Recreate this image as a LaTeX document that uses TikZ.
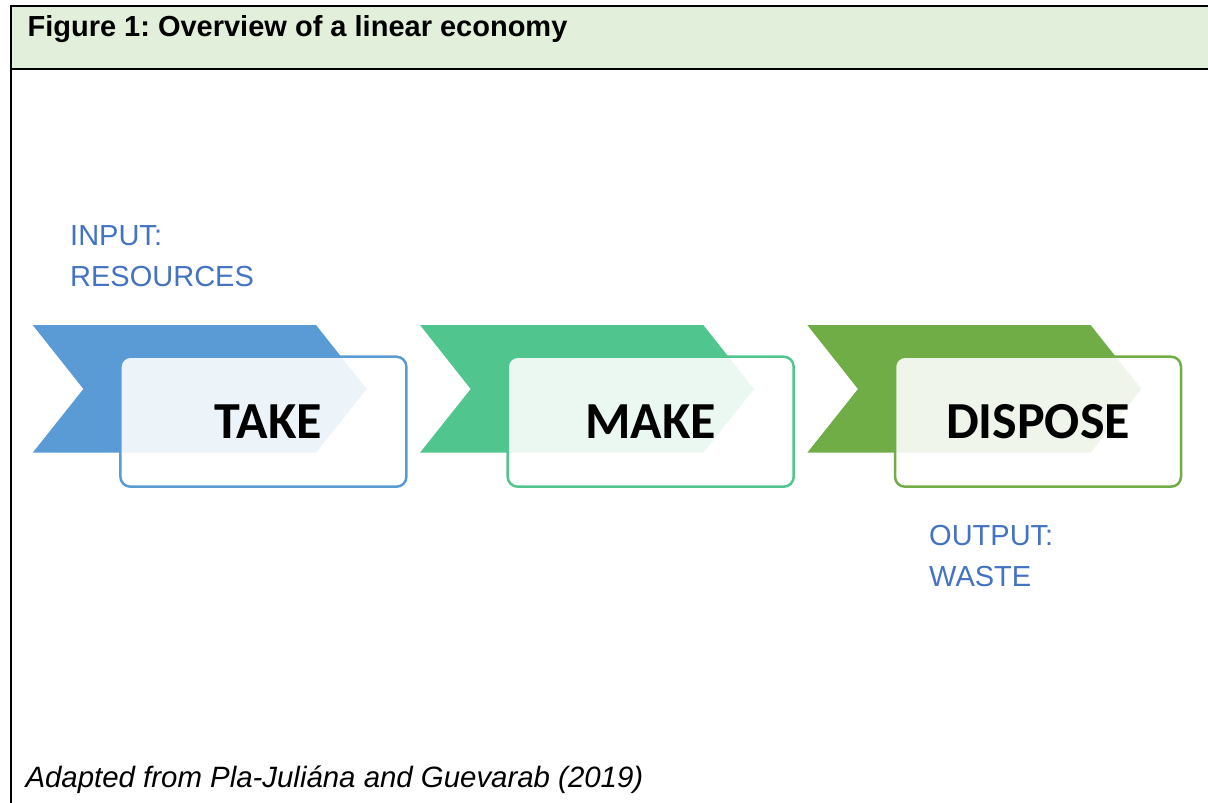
\documentclass[tikz,border=0pt]{standalone}
\usepackage{fontspec}
\setmainfont{Liberation Sans}
\newfontfamily\stagefont{Carlito}
\usetikzlibrary{positioning}

\definecolor{takeblue}{HTML}{5B9BD5}
\definecolor{makegreen}{HTML}{50C58E}
\definecolor{disposegreen}{HTML}{70AD47}
\definecolor{headgreen}{HTML}{E2EFDA}
\definecolor{labelblue}{HTML}{4472C4}

\tikzset{
	frameline/.style={line width=2pt, black},
	stagebox/.style={draw=#1, line width=2.5pt, rounded corners=10pt,
		fill=white, fill opacity=0.89, text opacity=1,
		minimum width=286pt, minimum height=130pt, inner sep=0pt,
		font=\stagefont\bfseries\fontsize{52}{60}\selectfont},
	flowlabel/.style={text=labelblue, align=left, inner sep=0pt, anchor=north west,
		font=\fontsize{29}{41}\selectfont},
}

% one chevron, left edge at #1
\newcommand{\chevronat}[2]{%
	\fill[#2] (#1,325) -- ++(283.3,0) -- ++(50.7,64) -- ++(-50.7,63.7)
		-- ++(-283.3,0) -- ++(50.7,-63.7) -- cycle;}

\frenchspacing
\begin{document}
\begin{tikzpicture}[x=1pt,y=-1pt]
	\useasboundingbox (0,0) rectangle (1208,803);
	% header band and frame
	\fill[headgreen] (11,6) rectangle (1212,69);
	\draw[frameline] (11,803) -- (11,6) -- (1212,6);
	\draw[frameline] (11,69) -- (1212,69);
	\node[anchor=base west, font=\bfseries\fontsize{29}{35}\selectfont] (title) at (24,36) {Figure 1: Overview of a linear economy};

	% take -> make -> dispose
	\foreach \x/\dx/\col/\nm/\txt in {32.7/10/takeblue/take/TAKE, 420/0/makegreen/make/MAKE, 807.3/0/disposegreen/dispose/DISPOSE}{
		\chevronat{\x}{\col}
		\node[stagebox=\col, text depth=0pt] (\nm) at (\x+230.7,421.7) {\hspace*{\dx pt}\txt};
	}

	\node[flowlabel] (input) at (70,225) {INPUT:\\RESOURCES};
	\node[flowlabel] (output) at (929,525) {OUTPUT:\\WASTE};

	\node[anchor=base west, font=\itshape\fontsize{29.4}{35}\selectfont] (source) at (22,787) {Adapted from Pla-Juliána and Guevarab (2019)};
\end{tikzpicture}
\end{document}
